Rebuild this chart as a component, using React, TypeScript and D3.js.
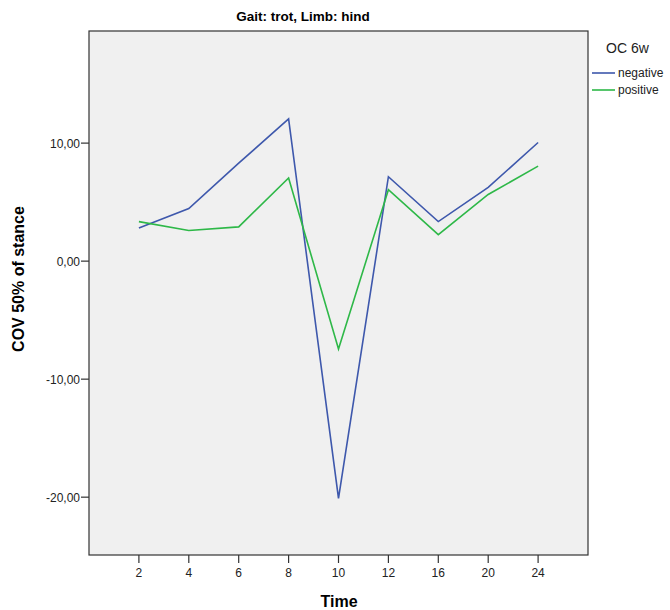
import React from "react";
import * as d3 from "d3";

const times = ["2", "4", "6", "8", "10", "12", "16", "20", "24"];
const negative = [2.8, 4.45, 8.3, 12.05, -20.1, 7.15, 3.35, 6.25, 10.05];
const positive = [3.35, 2.6, 2.9, 7.05, -7.45, 6.05, 2.25, 5.65, 8.05];
const yTicks = [10, 0, -10, -20];
const seriesNames = ["negative", "positive"];
const legendTitle = "OC 6w";
const title = "Gait: trot, Limb: hind";

const W = 670, H = 610;
const L = 89, R = 588, T = 31, B = 555;
const colors = ["#3E58AC", "#2EB848"];

export default function App() {
  const x = d3.scalePoint<string>().domain(times).range([L, R]).padding(1);
  const y = d3.scaleLinear().domain([-24.9, 19.5]).range([B, T]);
  const line = d3.line<number>().x((_, i) => x(times[i])!).y((d) => y(d));
  const fmt = (v: number) => v.toFixed(2).replace(".", ",");
  const font = "'Liberation Sans', Arial, sans-serif";
  const series = [negative, positive];
  return (
    <svg width={W} height={H} style={{ position: "absolute", left: 0, top: 0, background: "#fff" }} fontFamily={font}>
      <rect x={L} y={T} width={R - L} height={B - T} fill="#f0f0f0" stroke="#333" strokeWidth={1.2} />
      <text x={303} y={21} textAnchor="middle" fontSize={13.5} fontWeight="bold" fontFamily="'Liberation Sans Narrow', 'Liberation Sans', Arial, sans-serif">{title}</text>
      {yTicks.map((t) => (
        <g key={t}>
          <line x1={L - 8} x2={L} y1={y(t)} y2={y(t)} stroke="#333" strokeWidth={1.2} />
          <text x={L - 9} y={y(t) + 4.5} textAnchor="end" fontSize={12} fill="#222">{fmt(t)}</text>
        </g>
      ))}
      {times.map((t) => (
        <g key={t}>
          <line x1={x(t)} x2={x(t)} y1={B} y2={B + 8} stroke="#333" strokeWidth={1.2} />
          <text x={x(t)} y={B + 22} textAnchor="middle" fontSize={12} fill="#222">{t}</text>
        </g>
      ))}
      <text x={339} y={607} textAnchor="middle" fontSize={16} fontWeight="bold">Time</text>
      <text transform={`translate(24,279) rotate(-90)`} textAnchor="middle" fontSize={16} fontWeight="bold">COV 50% of stance</text>
      {series.map((s, i) => (
        <path key={i} d={line(s)!} fill="none" stroke={colors[i]} strokeWidth={1.6} />
      ))}
      <text x={606} y={53} fontSize={14} fill="#222">{legendTitle}</text>
      {seriesNames.map((n, i) => (
        <g key={n}>
          <line x1={592} x2={615} y1={73 + i * 17} y2={73 + i * 17} stroke={colors[i]} strokeWidth={1.6} />
          <text x={618} y={77 + i * 17} fontSize={12} fill="#222">{n}</text>
        </g>
      ))}
    </svg>
  );
}
